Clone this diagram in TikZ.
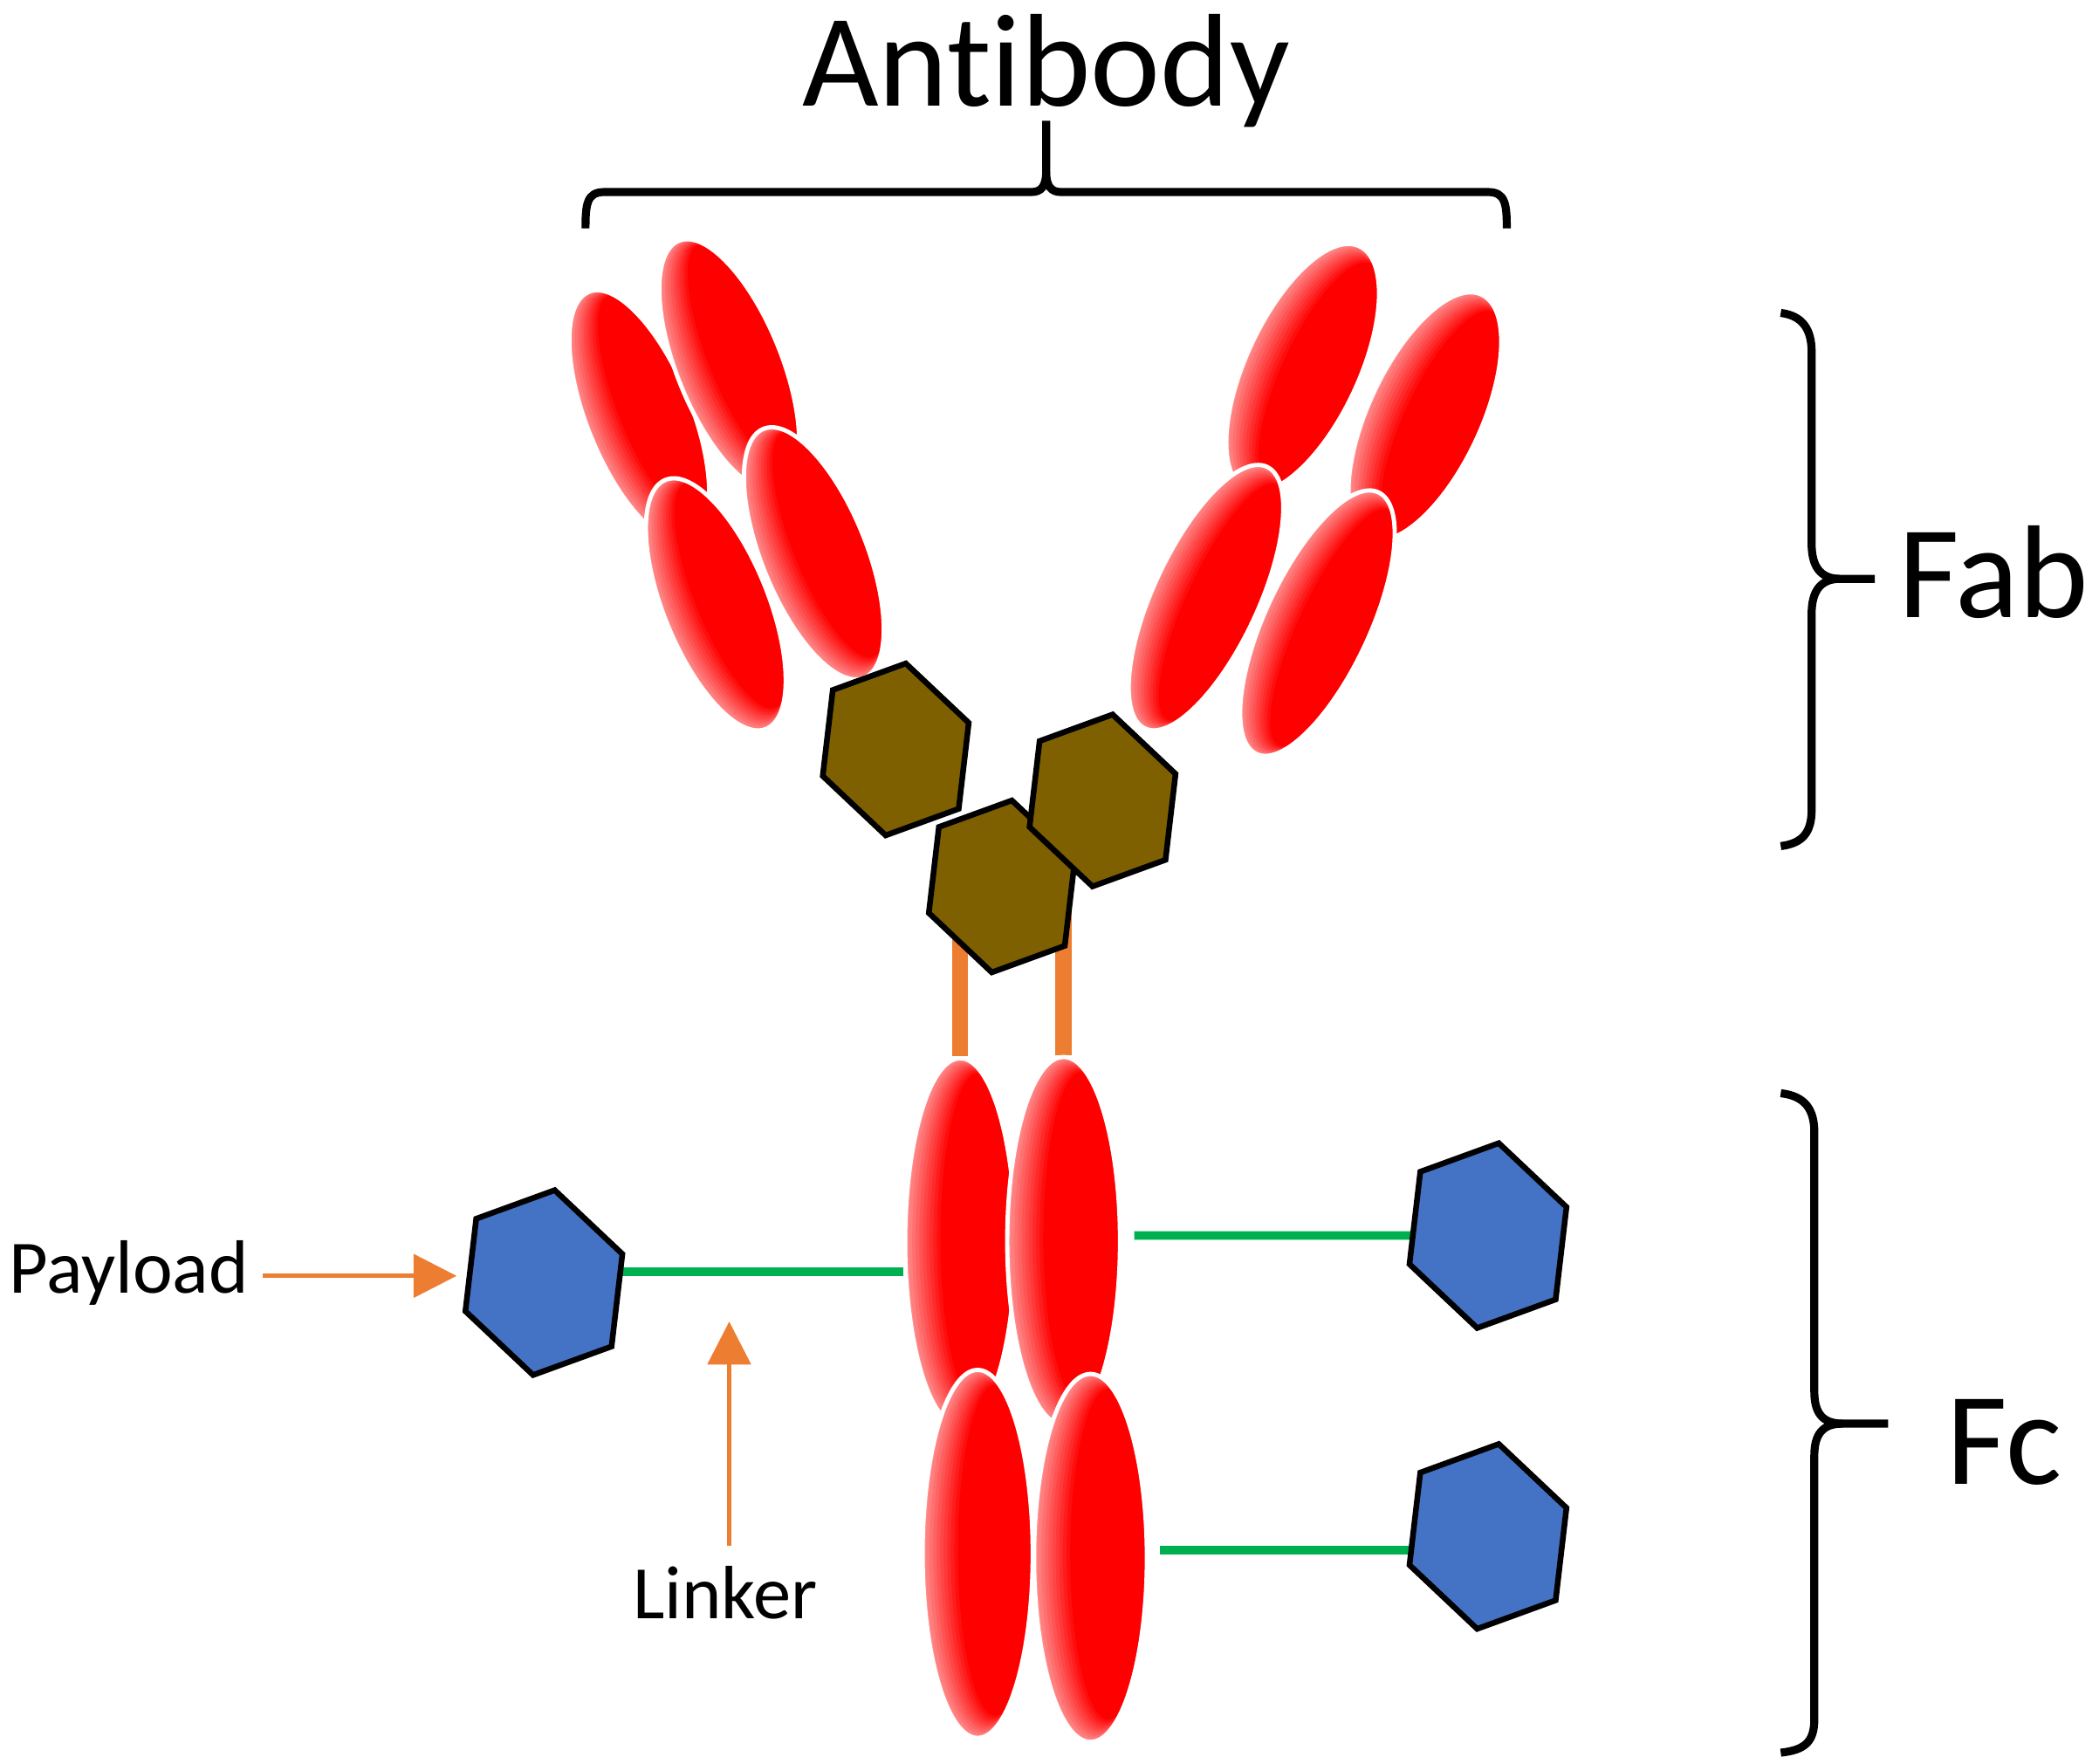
\documentclass[tikz,border=0pt]{standalone}
\usepackage{fontspec}
\setmainfont{Carlito}[Ligatures=NoCommon]
\usetikzlibrary{shapes.geometric, arrows.meta, backgrounds}
\definecolor{lobered}{RGB}{255,0,0}
\definecolor{lobelight}{RGB}{255,140,140}
\definecolor{hingebrown}{RGB}{127,96,0}
\definecolor{payblue}{RGB}{68,114,196}
\definecolor{linkgreen}{RGB}{0,176,80}
\definecolor{pointorange}{RGB}{237,125,49}
\begin{document}
\begin{tikzpicture}[x=0.1mm, y=-0.1mm,
	lobe/.style 2 args={ellipse, minimum width=#1, minimum height=#2, inner sep=0pt, fill=lobelight, draw=white, line width=0.9pt,
		path picture={\foreach \k [evaluate=\k as \p using \k*10] in {1,...,10} \fill[lobered!\p!lobelight] ([xshift=\k*0.016*#1, yshift=\k*0.001*#2]path picture bounding box.center) ellipse [x radius=0.5*#1-\k*0.016*#1, y radius=0.5*#2-\k*0.005*#2];}},
	fablobe/.style={lobe={7.8mm}{20mm}},
	fclobe/.style={lobe={8.2mm}{27.4mm}},
	hexa/.style={regular polygon, regular polygon sides=6, draw=black, line width=1.2pt, inner sep=0pt, rotate=20, xscale=0.87},
	hinge/.style={hexa, fill=hingebrown, minimum size=13.3mm},
	drug/.style={hexa, fill=payblue, minimum size=14.3mm},
	hingebar/.style={draw=pointorange, line width=3.4pt},
	linkline/.style={draw=linkgreen, line width=1.8pt},
	pointer/.style={draw=pointorange, line width=0.9pt, -{Triangle[length=3.2mm, width=3.2mm]}},
	bracket/.style={line width=1.7pt},
	bigtag/.style={inner sep=0pt, font=\fontsize{28}{34}\selectfont},
	tag/.style={inner sep=0pt, font=\fontsize{16}{19}\selectfont}]
	\useasboundingbox (0,0) rectangle (1563,1313);
		\node[fclobe] (ch2a) at (715,925) {};
		\node[lobe={8.4mm}{27.4mm}] (ch2b) at (792,924) {};
		\node[fclobe] (ch3a) at (728,1157) {};
		\node[lobe={8.4mm}{27.4mm}] (ch3b) at (812,1160) {};
		\begin{scope}[transform canvas={rotate around={22:(476,310)}}] \node[fablobe] (vlL) at (476,310) {}; \end{scope}
		\begin{scope}[transform canvas={rotate around={22:(543,272)}}] \node[fablobe] (vhL) at (543,272) {}; \end{scope}
		\begin{scope}[transform canvas={rotate around={22:(533,450)}}] \node[fablobe] (clL) at (533,450) {}; \end{scope}
		\begin{scope}[transform canvas={rotate around={22:(606,412)}}] \node[fablobe] (chL) at (606,412) {}; \end{scope}
		\begin{scope}[transform canvas={rotate around={-25:(970,274)}}] \node[lobe={8.4mm}{20mm}] (vhR) at (970,274) {}; \end{scope}
		\begin{scope}[transform canvas={rotate around={-25:(1061,310)}}] \node[lobe={8.4mm}{20mm}] (vlR) at (1061,310) {}; \end{scope}
		\begin{scope}[transform canvas={rotate around={-25:(898,445)}}] \node[lobe={7.8mm}{21.5mm}] (chR) at (898,445) {}; \end{scope}
		\begin{scope}[transform canvas={rotate around={-25:(981,464)}}] \node[lobe={7.8mm}{21.5mm}] (clR) at (981,464) {}; \end{scope}
		\node[hinge] (hingeA) at (667,558) {};
		\node[hinge] (hingeC) at (746,660) {};
		\node[hinge] (hingeB) at (821,596) {};
		\node[drug] (payA) at (405,955) {};
		\node[drug] (payB) at (1108,920) {};
		\node[drug] (payC) at (1108,1144) {};
	\begin{pgfonlayer}{background}
		\draw[hingebar] (ch2a.north) -- (ch2a.north |- hingeC.center);
		\draw[hingebar] (ch2b.north) -- (ch2b.north |- hingeC.center);
		\coordinate (linkA) at ([yshift=0.8mm]payA.center);
		\draw[linkline] (linkA) -- (linkA -| ch2a.west);
		\draw[linkline, shorten <=0.9mm] (ch2b.east |- payB) -- (payB);
		\coordinate (linkC) at ([yshift=-1mm]payC.center);
		\draw[linkline, shorten <=0.8mm] (ch3b.east |- linkC) -- (linkC);
	\end{pgfonlayer}
		\node[bigtag, anchor=base] (antibody) at (779,79) {Antibody};
		\node[bigtag, anchor=base west] (fab) at (1413,460) {Fab};
		\node[bigtag, anchor=base west] (fc) at (1449,1105) {Fc};
		\node[tag, anchor=base west] (payload) at (6,963) {Payload};
		\node[tag, anchor=base] (linker) at (540,1205) {Linker};
		\coordinate (tipA) at (340,950);
		\draw[pointer, shorten <=1mm] (payload.east |- tipA) -- (tipA);
		\coordinate (tipB) at (543,984);
		\draw[pointer, shorten <=1.4mm] (linker.north -| tipB) -- (tipB);
		\draw[bracket] (436,170) .. controls (436,152) and (437,143) .. (450,143) -- (768,143) .. controls (775,143) and (779,139) .. (779,128) -- (779,90);
		\draw[bracket] (1122,170) .. controls (1122,152) and (1121,143) .. (1108,143) -- (790,143) .. controls (783,143) and (779,139) .. (779,128);
		\draw[bracket] (1326,233) .. controls (1342,235) and (1349,245) .. (1349,262) -- (1349,405) .. controls (1349,421) and (1355,431) .. (1370,431) -- (1396,431);
		\draw[bracket] (1370,431) .. controls (1355,431) and (1349,441) .. (1349,457) -- (1349,603) .. controls (1349,620) and (1342,628) .. (1326,630);
		\draw[bracket] (1326,814) .. controls (1344,816) and (1351,826) .. (1351,843) -- (1351,1036) .. controls (1351,1052) and (1357,1060) .. (1372,1060) -- (1406,1060);
		\draw[bracket] (1372,1060) .. controls (1357,1060) and (1351,1068) .. (1351,1084) -- (1351,1280) .. controls (1351,1297) and (1344,1303) .. (1326,1305);
\end{tikzpicture}
\end{document}
